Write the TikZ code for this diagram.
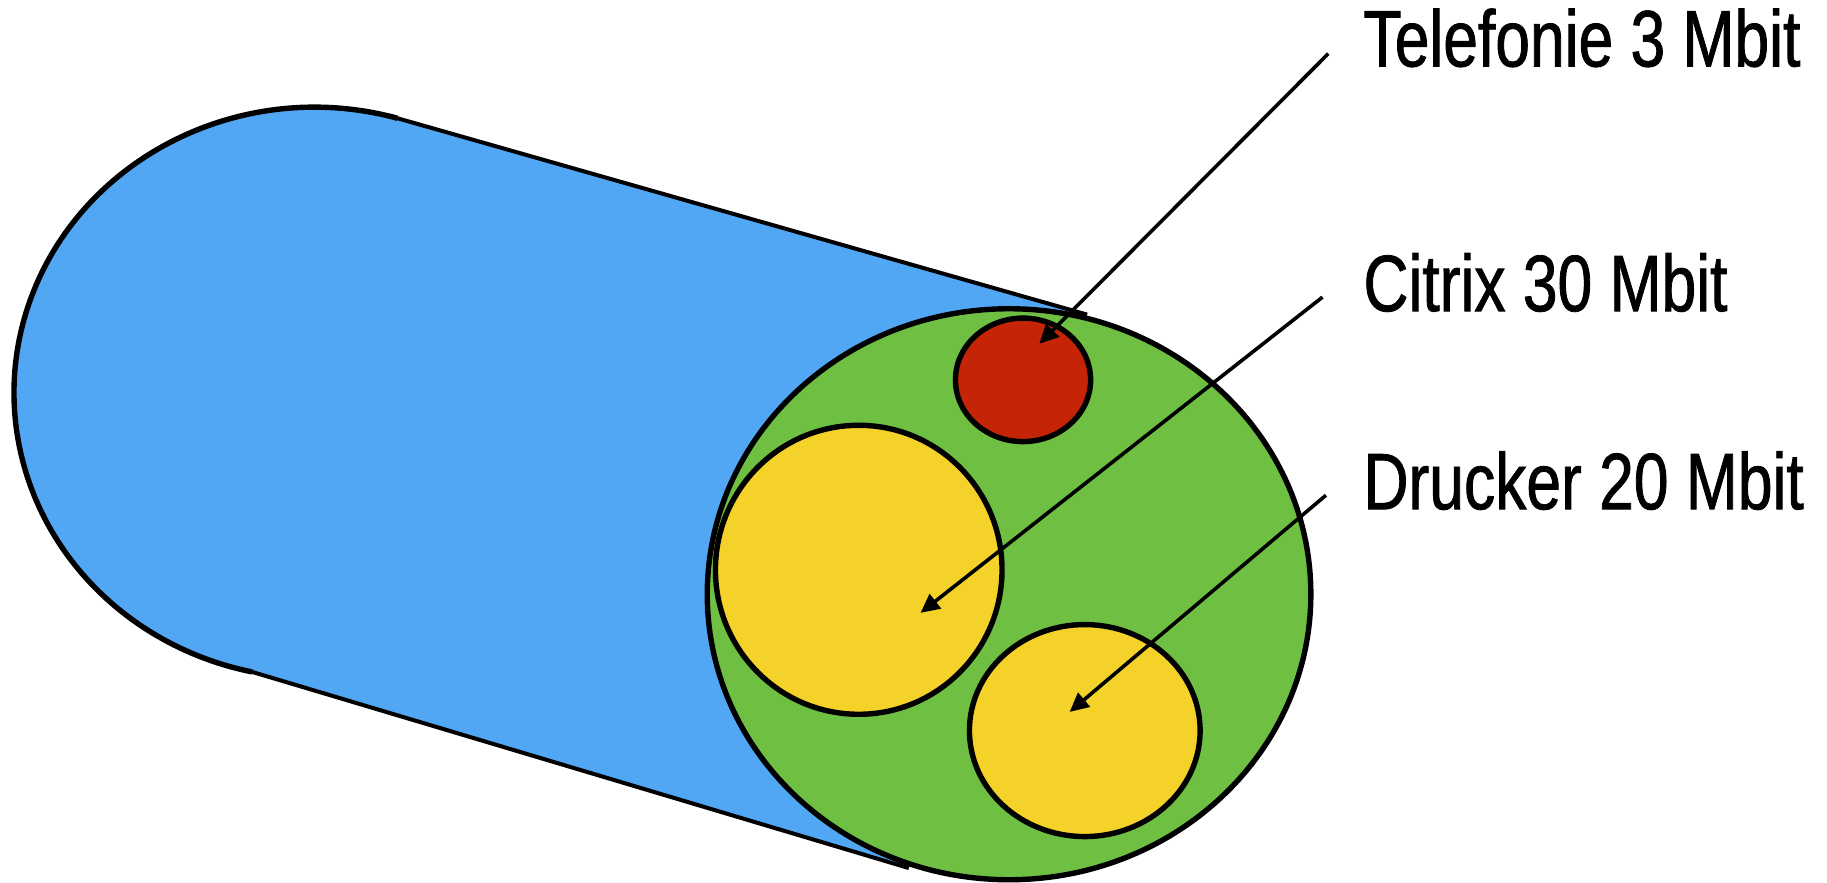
\documentclass[tikz,border=0pt]{standalone}
\usepackage{fontspec}
\setmainfont[FakeStretch=0.78,FakeBold=1.0]{Liberation Sans}
\usetikzlibrary{arrows.meta,shapes.geometric}
\definecolor{cblue}{HTML}{52A7F4}
\definecolor{cgreen}{HTML}{6FBF43}
\definecolor{cred}{HTML}{C62406}
\definecolor{cyellow}{HTML}{F5D22A}
\begin{document}
\begin{tikzpicture}[x=1.1652pt,y=-1.1652pt,
  outl/.style={draw=black,line width=5.4pt,ellipse,inner sep=0pt},
  edgeline/.style={draw=black,line width=4pt},
  pointer/.style={draw=black,line width=3.6pt,-{Triangle[length=19pt,width=18pt]}},
  lbl/.style={anchor=base west,inner sep=0pt,font=\fontsize{80pt}{88pt}\selectfont}]
\useasboundingbox (0,0) rectangle (1568,757);
% back end of cylinder
\coordinate (bc) at (270,337);
\coordinate (fc) at (866,510);
\path (bc) ++(-74:258 and 245) coordinate (ts);
\path (bc) ++(-258:258 and 245) coordinate (bs);
\coordinate (te) at (933,270);
\coordinate (be) at (780,745);
\fill[cblue] (ts) -- (te) -- (fc) -- (be) -- (bs) -- cycle;
\fill[cblue] (bc) ellipse[x radius=258,y radius=245];
\draw[black,line width=5.4pt] (ts) arc[start angle=-74,end angle=-258,x radius=258,y radius=245];
\draw[edgeline] (ts) -- (te);
\draw[edgeline] (bs) -- (be);
% front face
\node[outl,fill=cgreen,minimum width=603.6pt,minimum height=571pt] (front) at (fc) {};
\node[outl,fill=cred,minimum width=135.2pt,minimum height=123.5pt] (tel) at (878,326) {};
\node[outl,fill=cyellow,minimum width=286.6pt,minimum height=289pt] (cit) at (737,489) {};
\node[outl,fill=cyellow,minimum width=230.7pt,minimum height=212pt] (dru) at (931,627) {};
% labels
\node[lbl] (ltel) at (1170,57) {Telefonie 3 Mbit};
\node[lbl] (lcit) at (1170,267) {Citrix 30 Mbit};
\node[lbl] (ldru) at (1170,437) {Drucker 20 Mbit};
% pointers
\coordinate (a1) at (1140,46);
\coordinate (b1) at (892,295);
\coordinate (a2) at (1135,255);
\coordinate (b2) at (790,526);
\coordinate (a3) at (1138,425);
\coordinate (b3) at (918,611);
\draw[pointer] (a1) -- (b1);
\draw[pointer] (a2) -- (b2);
\draw[pointer] (a3) -- (b3);
\end{tikzpicture}
\end{document}
